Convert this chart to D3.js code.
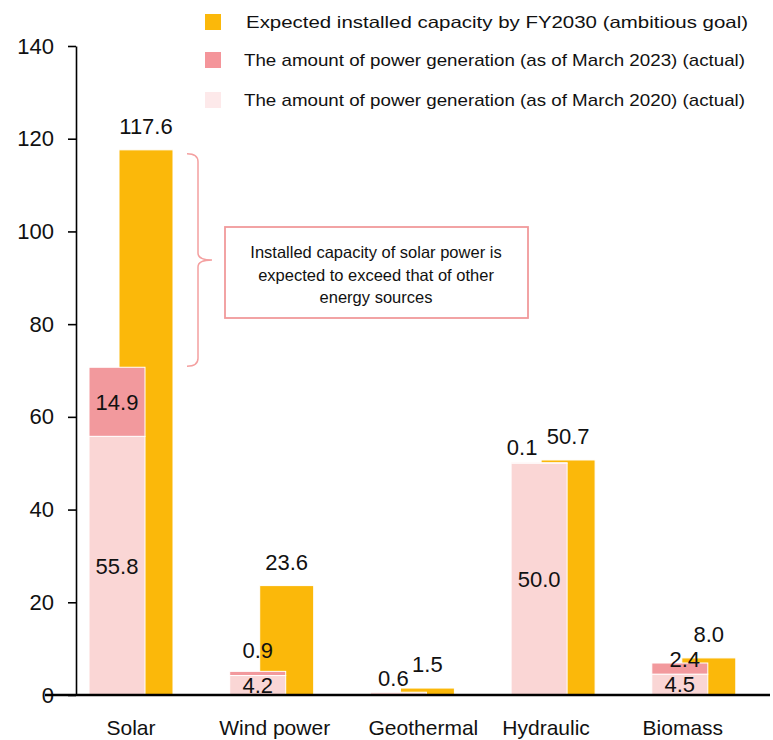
<!DOCTYPE html>
<html>
<head>
<meta charset="utf-8">
<script src="https://cdn.jsdelivr.net/npm/d3@7"></script>
<style>
  body { margin: 0; background: #fff; }
  text { font-family: "Liberation Sans", Arial, sans-serif; fill: #111; }
</style>
</head>
<body>
<script>
// installed capacity, GW
const categories = ["Solar", "Wind power", "Geothermal", "Hydraulic", "Biomass"];
const actual2020 = [55.8, 4.2, 0.6, 50.0, 4.5];
const added2023 = [14.9, 0.9, 0, 0.1, 2.4];   // increase Mar 2020 -> Mar 2023
const goal2030 = [117.6, 23.6, 1.5, 50.7, 8.0];
const yTicks = [0, 20, 40, 60, 80, 100, 120, 140];

const legendItems = [
  {label: "Expected installed capacity by FY2030 (ambitious goal)", color: "#fbb80a", font: "\"DejaVu Sans\", sans-serif"},
  {label: "The amount of power generation (as of March 2023) (actual)", color: "#f4959a"},
  {label: "The amount of power generation (as of March 2020) (actual)", color: "#fde9ea"}
];
const noteLines = ["Installed capacity of solar power is", "expected to exceed that of other", "energy sources"];

const colors = {goal: "#fbb80a", a2023: "#f2999d", a2020: "#fad6d5", note: "#f19a9b"};

// hand placed labels for the thin segments (dx, dy from segment top)
const thinLabelShift = {
  "Wind power": [0, -21],
  "Geothermal": [-5, -14],
  "Hydraulic": [-17, -16],
  "Biomass": [5, -4]
};
// category labels are not exactly centred under the groups
const catLabelShift = [0, 3, 11, -7, -11];

const width = 773, height = 740;
const svg = d3.select("body").append("svg")
    .attr("width", width)
    .attr("height", height);

const y = d3.scaleLinear().domain([0, 140]).range([695, 46]);
const x = d3.scaleBand().domain(categories).range([89, 89 + 5 * 140.7]);
const pinkW = 56, goalOff = 30, goalW = 54;

const rows = categories.map((c, i) => ({
  cat: c, a2020: actual2020[i], add: added2023[i], goal: goal2030[i]
}));

// y axis
svg.append("g")
    .attr("transform", "translate(76,0)")
    .call(d3.axisLeft(y).tickValues(yTicks).tickSize(8).tickSizeOuter(0).tickPadding(14))
    .call(g => g.select(".domain").attr("stroke-width", 1.6))
    .call(g => g.selectAll(".tick line").attr("stroke-width", 1.6))
    .call(g => g.selectAll(".tick text")
        .attr("font-size", 22)
        .attr("font-family", "\"Liberation Sans\", Arial, sans-serif")
        .attr("fill", "#111"));

// goal bars (behind)
svg.append("g").selectAll("rect")
  .data(rows)
  .join("rect")
    .attr("x", d => x(d.cat) + goalOff)
    .attr("y", d => y(d.goal))
    .attr("width", goalW)
    .attr("height", d => y(0) - y(d.goal))
    .attr("fill", colors.goal)
    .attr("stroke", "#fff")
    .attr("stroke-width", 1);

// actual stacked bars
const stack = svg.append("g");
stack.selectAll("rect.a2020")
  .data(rows)
  .join("rect")
    .attr("class", "a2020")
    .attr("x", d => x(d.cat))
    .attr("y", d => y(d.a2020))
    .attr("width", pinkW)
    .attr("height", d => y(0) - y(d.a2020))
    .attr("fill", colors.a2020)
    .attr("stroke", "#fff")
    .attr("stroke-width", 1);

stack.selectAll("rect.a2023")
  .data(rows.filter(d => d.add > 0))
  .join("rect")
    .attr("class", "a2023")
    .attr("x", d => x(d.cat))
    .attr("y", d => y(d.a2020 + d.add))
    .attr("width", pinkW)
    .attr("height", d => y(d.a2020) - y(d.a2020 + d.add))
    .attr("fill", colors.a2023)
    .attr("stroke", "#fff")
    .attr("stroke-width", 1);

// x axis baseline
svg.append("line")
    .attr("x1", 45).attr("x2", 770)
    .attr("y1", y(0)).attr("y2", y(0))
    .attr("stroke", "#000")
    .attr("stroke-width", 2.6);

// value labels
const labels = svg.append("g").attr("font-size", 22).attr("text-anchor", "middle");

function segLabel(d, lo, hi, value) {
  const cx = x(d.cat) + pinkW / 2;
  const top = y(hi);
  if (y(lo) - top >= 20) return {x: cx, y: (y(lo) + top) / 2, t: value};
  const s = thinLabelShift[d.cat] || [0, -18];
  return {x: cx + s[0], y: top + s[1], t: value};
}

const valueLabels = [];
rows.forEach(d => {
  // 2020 segments of 4.2 / 4.5 are just under 20px but keep their label inside
  const base = y(0) - y(d.a2020) >= 15
    ? {x: x(d.cat) + pinkW / 2, y: (y(0) + y(d.a2020)) / 2, t: d.a2020}
    : segLabel(d, 0, d.a2020, d.a2020);
  valueLabels.push(base);
  if (d.add > 0) valueLabels.push(segLabel(d, d.a2020, d.a2020 + d.add, d.add));
  valueLabels.push({x: x(d.cat) + goalOff + goalW / 2, y: y(d.goal) - 24, t: d.goal});
});

labels.selectAll("text")
  .data(valueLabels)
  .join("text")
    .attr("x", d => d.x)
    .attr("y", d => d.y)
    .attr("dy", "0.36em")
    .text(d => d3.format(".1f")(d.t));

// category labels
svg.append("g").selectAll("text")
  .data(categories)
  .join("text")
    .attr("x", (c, i) => x(c) + (goalOff + goalW) / 2 + catLabelShift[i])
    .attr("y", 735)
    .attr("text-anchor", "middle")
    .attr("font-size", 21)
    .text(c => c);

// legend
const legend = svg.append("g");
legendItems.forEach((item, i) => {
  const cy = [22, 60, 100][i];
  legend.append("rect")
      .attr("x", 205).attr("y", cy - 8)
      .attr("width", 16).attr("height", 16)
      .attr("fill", item.color);
  legend.append("text")
      .attr("x", i === 0 ? 246 : 244)
      .attr("y", cy)
      .attr("dy", "0.36em")
      .attr("font-size", i === 0 ? 16.5 : 17)
      .attr("font-family", item.font || null)
      .attr("textLength", i === 0 ? 502 : 501)
      .attr("lengthAdjust", "spacingAndGlyphs")
      .text(item.label);
});

// brace pointing at the solar goal bar
const bTop = y(117.6) + 4, bBot = y(70.7) - 1, bMid = (bTop + bBot) / 2;
const bx = 198;
svg.append("path")
    .attr("d", `M187,${bTop} Q${bx},${bTop} ${bx},${bTop + 8} L${bx},${bMid - 7} Q${bx},${bMid} 212,${bMid}` +
               ` Q${bx},${bMid} ${bx},${bMid + 7} L${bx},${bBot - 8} Q${bx},${bBot} 187,${bBot}`)
    .attr("fill", "none")
    .attr("stroke", "#f4a0a0")
    .attr("stroke-width", 1.5);

// note box
svg.append("rect")
    .attr("x", 225).attr("y", 227)
    .attr("width", 303).attr("height", 91)
    .attr("fill", "#fff")
    .attr("stroke", colors.note)
    .attr("stroke-width", 1.8);

svg.append("g").selectAll("text")
  .data(noteLines)
  .join("text")
    .attr("x", 376)
    .attr("y", (d, i) => 258 + i * 22.5)
    .attr("text-anchor", "middle")
    .attr("font-size", 16.5)
    .text(d => d);
</script>
</body>
</html>
